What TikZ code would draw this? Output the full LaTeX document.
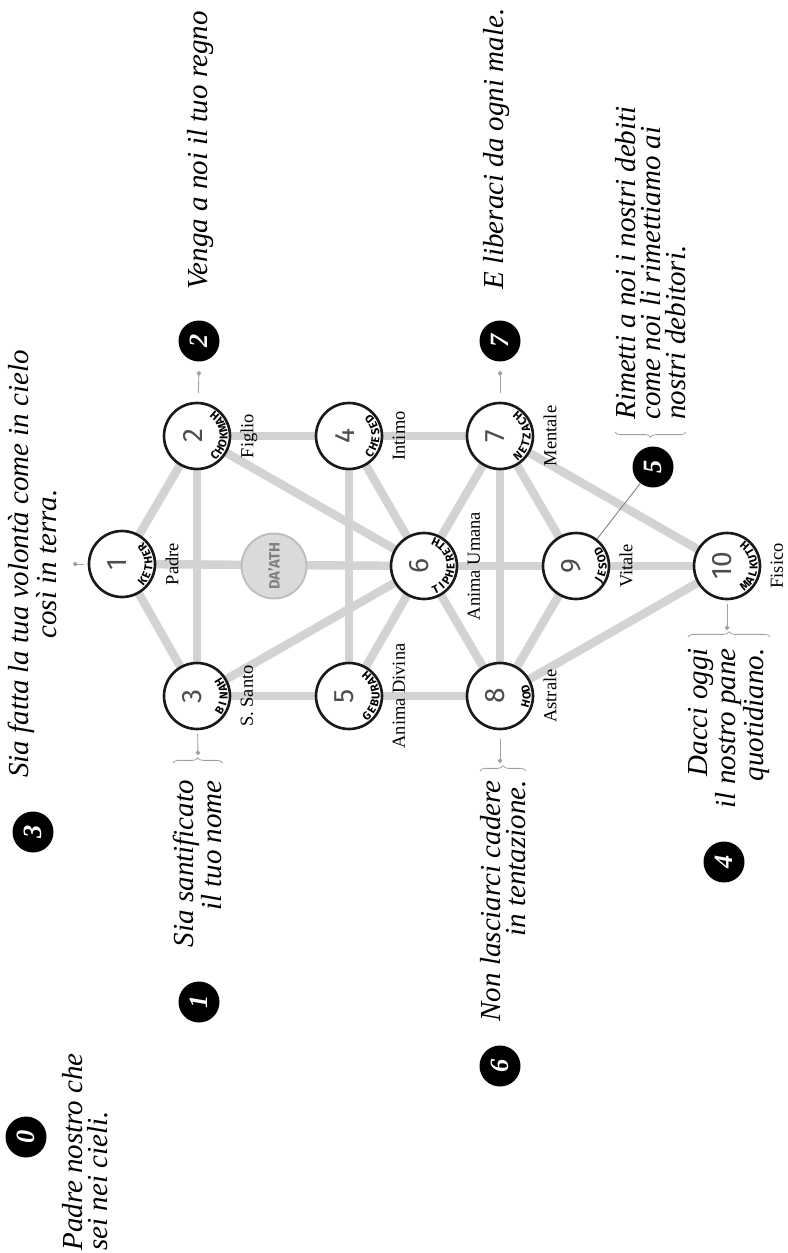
\documentclass[tikz,border=0pt]{standalone}
\usepackage{fontspec}
\setmainfont{Liberation Serif}
\setsansfont{Fira Sans}
\usepackage{tikz}
\usetikzlibrary{arrows.meta, backgrounds, decorations.pathreplacing}
\definecolor{pathgrey}{HTML}{D3D3D3}
\definecolor{daathfill}{HTML}{DADADA}
\definecolor{daathdraw}{HTML}{BEBEBE}
\definecolor{daathtext}{HTML}{808080}
\definecolor{numgrey}{HTML}{4D4D4D}
\definecolor{pointgrey}{HTML}{A0A0A0}

\begin{document}
\begin{tikzpicture}[x=0.02cm, y=0.02cm,
  sefira/.style={circle, draw=black!90, line width=1.5pt, fill=white, minimum size=1.32cm, inner sep=0pt},
  sefnum/.style={rotate=90, inner sep=0pt, text=numgrey, font=\sffamily\fontsize{16}{16}\selectfont},
  sefletter/.style={anchor=base, inner sep=0pt, font=\sffamily\bfseries\fontsize{6.5}{6.5}\selectfont},
  sefnote/.style={rotate=90, anchor=north, inner sep=0pt, font=\fontsize{10.5}{10.5}\selectfont},
  daath/.style={circle, draw=daathdraw, line width=1.1pt, fill=daathfill, minimum size=1.3cm, inner sep=0pt,
    rotate=90, text=daathtext, font=\sffamily\bfseries\fontsize{8.5}{8.5}\selectfont},
  treepath/.style={draw=pathgrey, line width=4.8pt},
  bullet/.style={circle, fill=black, minimum size=0.82cm, inner sep=0pt, rotate=90, text=white,
    font=\bfseries\itshape\fontsize{15}{15}\selectfont},
  prayer/.style={rotate=90, inner sep=0pt, font=\itshape\fontsize{16.5}{14.2}\selectfont},
  pointer/.style={draw=pointgrey, line width=0.5pt, -{Circle[length=2.6pt]}, shorten <=2pt},
  bracket/.style={draw=pointgrey, line width=0.45pt, decorate, decoration={brace, amplitude=3pt}}]
  \useasboundingbox (0,0) rectangle (787,-1253);

  % the sefirot, names set letter by letter round the inside
  \foreach \n/\x/\y/\name/\lab in {1/122/564/{K,E,T,H,E,R}/Padre, 2/197/436/{C,H,O,K,M,A,H}/Figlio,
      3/197/696/{B,I,N,A,H}/S. Santo, 4/349/436/{C,H,E,S,E,D}/Intimo, 5/349/696/{G,E,B,U,R,A,H}/Anima Divina,
      6/424/566/{T,I,P,H,E,R,E,T,H}/Anima Umana, 7/500/436/{N,E,T,Z,A,C,H}/Mentale, 8/500/696/{H,O,D}/Astrale,
      9/576/566/{J,E,S,O,D}/Vitale, 10/727/566/{M,A,L,K,U,T,H}/Fisico} {
    \node[sefira] (k\n) at (\x,-\y) {};
    \node[sefnum] at ([xshift=-0.09cm]k\n.center) {\n};
    \foreach \c [count=\m] in \name {\xdef\nlet{\m}}
    \foreach \c [count=\m] in \name
      \node[sefletter, rotate={(\m-(\nlet+1)/2)*16+90}] at ([shift={({(\m-(\nlet+1)/2)*16}:30.5)}]k\n.center) {\c};
    \node[sefnote] at ([xshift=0.18cm]k\n.east) {\lab};
  }
  \node[daath] (kd) at (274,-566) {DA’ATH};

  \begin{pgfonlayer}{background}
    \foreach \a/\b in {1/2,1/3,1/6,2/3,2/4,2/6,3/5,3/6,4/5,4/6,4/7,5/6,5/8,6/7,6/8,6/9,7/8,7/9,7/10,8/9,8/10,9/10}
      \draw[treepath] (k\a.center) -- (k\b.center);
  \end{pgfonlayer}

  % the prayer
  \node[prayer, anchor=north west, align=left] (t0) at (62,-1251) {Padre nostro che\\sei nei cieli.};
  \node[prayer, anchor=north east, align=right] (t1) at (173,-780) {Sia santificato\\il tuo nome};
  \node[prayer, anchor=north west] (t2) at (187,-290) {Venga a noi il tuo regno};
  \node[prayer, anchor=north, align=center] (t3) at (8,-564) {Sia fatta la tua volontà come in cielo\\così in terra.};
  \node[prayer, anchor=north east, align=right] (t4) at (688,-648) {Dacci oggi\\il nostro pane\\quotidiano.};
  \node[prayer, anchor=north west, align=left] (t5) at (615,-420) {Rimetti a noi i nostri debiti\\come noi li rimettiamo ai\\nostri debitori.};
  \node[prayer, anchor=north east, align=right] (t6) at (480,-780) {Non lasciarci cadere\\in tentazione.};
  \node[prayer, anchor=north west] (t7) at (483,-290) {E liberaci da ogni male.};

  \node[bullet] (b0) at (26,-1137) {0};
  \node[bullet] (b1) at (199,-1002) {1};
  \node[bullet] (b2) at (199,-341) {2};
  \node[bullet] (b3) at (33,-832) {3};
  \node[bullet] (b4) at (724,-862) {4};
  \node[bullet] (b5) at (653,-467) {5};
  \node[bullet] (b6) at (500,-1066) {6};
  \node[bullet] (b7) at (500,-341) {7};

  % pointers and braces
  \coordinate (p1) at (73,-564);
  \coordinate (p2) at (199,-371);
  \coordinate (p3) at (198,-755);
  \coordinate (p7) at (500,-371);
  \coordinate (p8) at (500,-763);
  \coordinate (p10) at (727,-630);
  \draw[pointer] (k1) -- (p1);
  \draw[pointer, shorten <=5pt] (k2) -- (p2);
  \draw[pointer] (k3) -- (p3);
  \draw[pointer, shorten <=5pt] (k7) -- (p7);
  \draw[pointer, shorten <=5pt] (k8) -- (p8);
  \draw[pointer] (k10) -- (p10);
  \draw[draw=gray, line width=0.5pt] (k9) -- (b5);
  \draw[bracket] ([yshift=0.34cm]t1.north east) -- ([yshift=0.34cm]t1.south east);
  \draw[bracket] ([yshift=0.18cm]t6.north east) -- ([yshift=0.18cm]t6.south east);
  \draw[bracket] ([yshift=0.22cm]t4.north east) -- ([yshift=0.22cm]t4.south east);
  \draw[bracket] ([yshift=-0.24cm]t5.south west) -- ([yshift=-0.24cm]t5.north west);
\end{tikzpicture}
\end{document}
